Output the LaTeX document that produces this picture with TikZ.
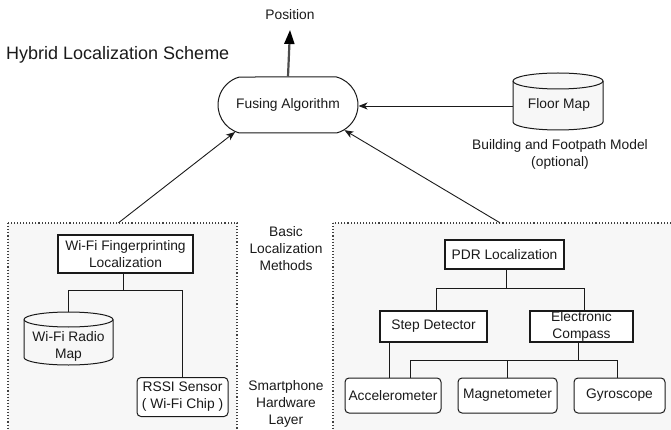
\documentclass[tikz,border=0pt]{standalone}
\usepackage{fontspec}
\setmainfont{Liberation Sans}
\usetikzlibrary{shapes.misc,arrows.meta,calc}
\definecolor{panel}{HTML}{F7F7F7}
\definecolor{cylf}{HTML}{F7F7F7}
\definecolor{ink}{HTML}{1A1A1A}
\begin{document}
\begin{tikzpicture}[x=1pt,y=-1pt,
  every node/.style={font=\fontsize{13.8}{17}\selectfont, text=ink, inner sep=0pt, align=center},
  box/.style={draw=ink, line width=1.1pt, fill=white},
  rbox/.style={draw=ink, line width=1pt, fill=white, rounded corners=4pt},
  panelbox/.style={draw=black!75, dotted, line width=1.1pt, fill=panel},
  cyl/.style={draw=ink, line width=1pt, fill=cylf},
  conn/.style={draw=ink, line width=1pt},
  arr/.style={draw=ink, line width=0.9pt, -{Stealth[length=9pt, width=7pt, inset=2.5pt]}},
  bigarr/.style={draw=black!70, line width=2.2pt, -{Triangle[length=14pt, width=10pt, fill=black, color=black]}},
  ghost/.style={draw=none, fill=none}
]
\useasboundingbox (0,0) rectangle (671,430);

% panels
\path[panelbox] (8,223) rectangle (237,436);
\path[panelbox] (333,223) rectangle (678,436);
\node[ghost, minimum width=229, minimum height=207] (lp) at (122.5,326.5) {};
\node[ghost, minimum width=338, minimum height=207] (rp) at (502,326.5) {};

% title
\node[anchor=west, font=\fontsize{18}{20}\selectfont] (title) at (6,55) {Hybrid Localization Scheme};

% fusing algorithm
\node[draw=ink, line width=1pt, fill=white, rounded rectangle, rounded rectangle arc length=150,
      minimum width=140, minimum height=56] (fa) at (288,105) {Fusing Algorithm};

% position
\node (pos) at (290,15) {Position};
\draw[bigarr] (fa.north) -- ([yshift=-15]pos.center);

% floor map cylinder
\path[cyl] (513,81) -- (513,122) arc[start angle=180, end angle=0, x radius=45, y radius=8]
  -- (603,81) arc[start angle=0, end angle=-180, x radius=45, y radius=8] -- cycle;
\draw[draw=ink, line width=1pt] (513,81) arc[start angle=180, end angle=0, x radius=45, y radius=8];
\node[ghost, minimum width=90, minimum height=57] (fm) at (558,101.5) {};
\node (fmt) at (559,105) {Floor Map};
\node (fml) at (560,154) {Building and Footpath Model\\(optional)};
\draw[arr] ([yshift=-4.5]fm.west) -- ([yshift=-4.5]fm.west -| fa.east);

% side labels
\node (blm) at (286,249) {Basic\\Localization\\Methods};
\node (shl) at (286,404) {Smartphone\\Hardware\\Layer};

% arrows from panels
\draw[arr] ([xshift=-4]lp.north) -- (fa.207);
\draw[arr] ([xshift=-2]rp.north) -- (fa.336);

% left panel
\node[box, minimum width=135, minimum height=38] (wfl) at (125.5,254) {Wi-Fi Fingerprinting\\Localization};
\path[cyl] (24,319.5) -- (24,357.5) arc[start angle=180, end angle=0, x radius=44.5, y radius=7.5]
  -- (113,319.5) arc[start angle=0, end angle=-180, x radius=44.5, y radius=7.5] -- cycle;
\draw[draw=ink, line width=1pt] (24,319.5) arc[start angle=180, end angle=0, x radius=44.5, y radius=7.5];
\node[ghost, minimum width=89, minimum height=53] (wrm) at (68.5,338.5) {};
\node (wrmt) at (68.5,346) {Wi-Fi Radio\\Map};
\node[rbox, minimum width=91, minimum height=39] (rssi) at (182.5,397) {RSSI Sensor\\( Wi-Fi Chip )};
\draw[conn] ([xshift=-2.5]wfl.south) -- ++(0,17) coordinate (j1);
\draw[conn] (wrm.north) |- (j1) -| (rssi.north);

% right panel
\node[box, minimum width=119, minimum height=29] (pdr) at (504.5,254.5) {PDR Localization};
\node[box, minimum width=107, minimum height=31] (sd) at (433.5,326.5) {Step Detector};
\node[box, minimum width=103, minimum height=31] (ec) at (581.5,326.5) {Electronic\\Compass};
\node[rbox, minimum width=96, minimum height=35] (acc) at (393,395.5) {Accelerometer};
\node[rbox, minimum width=99, minimum height=35] (mag) at (507.5,395.5) {Magnetometer};
\node[rbox, minimum width=91, minimum height=35] (gyr) at (619.5,395.5) {Gyroscope};

\draw[conn] ([xshift=2]pdr.south) -- ++(0,19) coordinate (j2);
\draw[conn] ([xshift=2.5]sd.north) |- (j2) -| ([xshift=2.5]ec.north);
\draw[conn] ([xshift=10]sd.south west) -- ([xshift=10]sd.south west |- acc.north);
\draw[conn] ([xshift=-3.5]ec.south) -- ++(0,18) coordinate (j3);
\draw[conn] ([xshift=17]acc.north) |- (j3) -| ([xshift=-2.5]gyr.north);
\draw[conn] (mag.north) -- (mag.north |- j3);
\end{tikzpicture}
\end{document}
